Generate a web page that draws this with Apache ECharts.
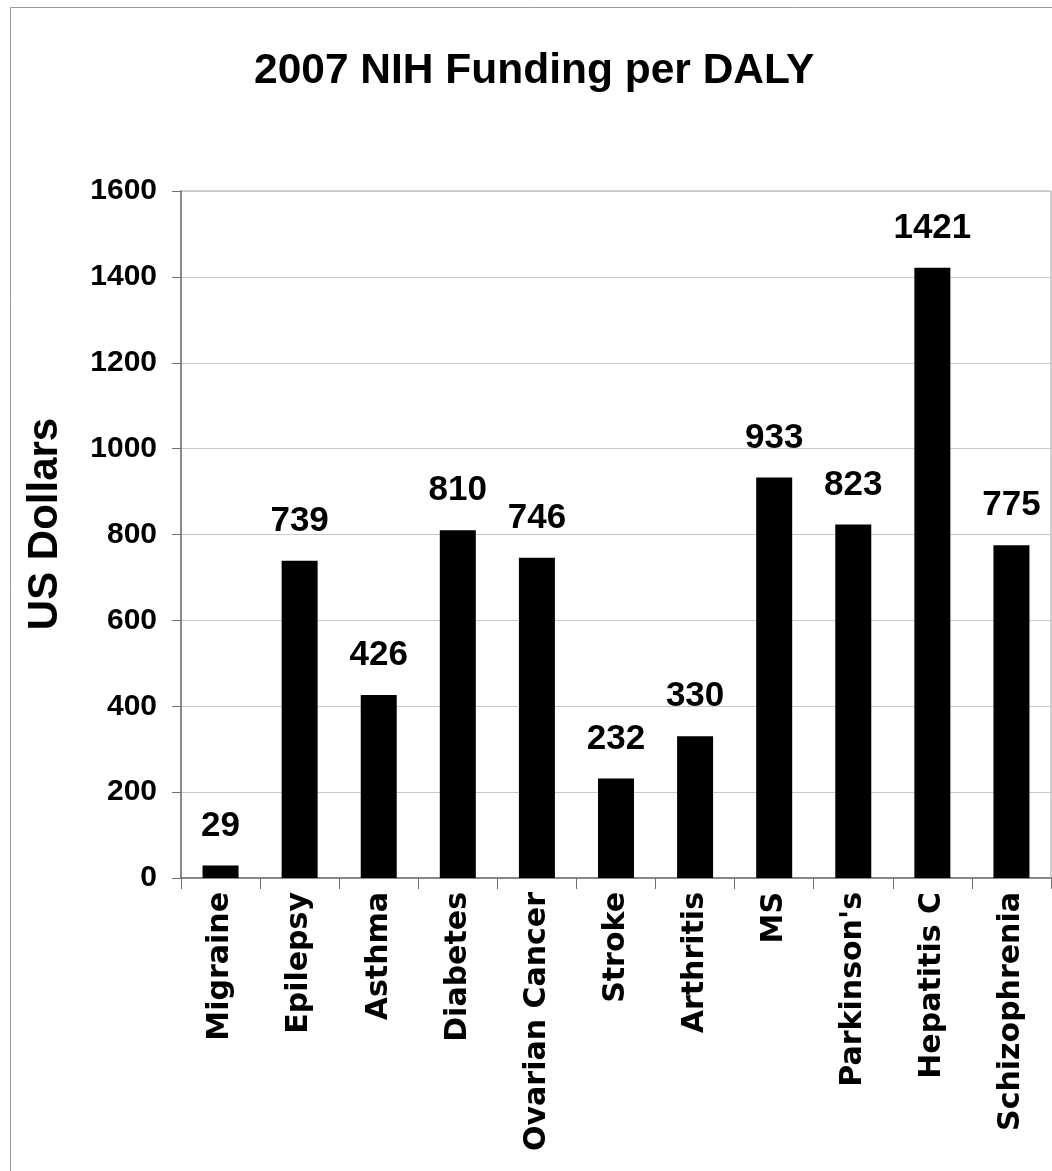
<!DOCTYPE html>
<html>
<head>
<meta charset="utf-8">
<script src="https://cdn.jsdelivr.net/npm/echarts@6/dist/echarts.min.js"></script>
<style>
html,body{margin:0;padding:0;background:#fff;}
#chart{width:1052px;height:1171px;}
</style>
</head>
<body>
<div id="chart"></div>
<script>
const categories = ['Migraine','Epilepsy','Asthma','Diabetes','Ovarian Cancer','Stroke','Arthritis','MS',"Parkinson's",'Hepatitis C','Schizophrenia'];
const values = [29, 739, 426, 810, 746, 232, 330, 933, 823, 1421, 775];
const yTicks = [0, 200, 400, 600, 800, 1000, 1200, 1400, 1600];
const titleText = '2007 NIH Funding per DALY';
const yName = 'US Dollars';

const chart = echarts.init(document.getElementById('chart'));
chart.setOption({
  backgroundColor: '#ffffff',
  animation: false,
  title: {
    text: titleText,
    left: 254,
    top: 50,
    padding: 0,
    textStyle: { fontFamily: 'Liberation Sans', fontWeight: 'bold', fontSize: 42.5, color: '#000' }
  },
  graphic: [
    { type: 'rect', left: 8, top: 5, shape: { width: 1200, height: 1300 }, style: { fill: 'none', stroke: '#999', lineWidth: 1 }, silent: true, z: -1 },
    { type: 'text', x: 45, y: 524, rotation: Math.PI / 2,
      style: { text: yName, fontFamily: 'Liberation Sans', fontWeight: 'bold', fontSize: 42, fill: '#000', align: 'center', verticalAlign: 'middle' } }
  ],
  grid: { left: 181, right: 1, top: 191, bottom: 293, show: true, borderColor: '#a0a0a0', borderWidth: 1, containLabel: false },
  xAxis: {
    type: 'category',
    data: categories,
    boundaryGap: true,
    axisLine: { lineStyle: { color: '#707070', width: 1.5 } },
    axisTick: { show: true, interval: 0, length: 11, lineStyle: { color: '#707070' } },
    axisLabel: { interval: 0, rotate: 90, margin: 14, fontFamily: 'DejaVu Sans', fontWeight: 'bold', fontSize: 30, color: '#000' }
  },
  yAxis: {
    type: 'value',
    min: yTicks[0],
    max: yTicks[yTicks.length - 1],
    interval: yTicks[1] - yTicks[0],
    axisLine: { show: true, lineStyle: { color: '#707070', width: 1.5 } },
    axisTick: { show: true, length: 9, lineStyle: { color: '#707070' } },
    splitLine: { lineStyle: { color: '#c8c8c8', width: 1 } },
    axisLabel: { margin: 24, formatter: function (v) { return String(v); }, fontFamily: 'Liberation Sans', fontWeight: 'bold', fontSize: 30, color: '#000' }
  },
  series: [{
    type: 'bar',
    data: values,
    barWidth: 36,
    itemStyle: { color: '#000' },
    label: { show: true, position: 'top', distance: 22, fontFamily: 'Liberation Sans', fontWeight: 'bold', fontSize: 35, color: '#000' }
  }]
});
</script>
</body>
</html>
